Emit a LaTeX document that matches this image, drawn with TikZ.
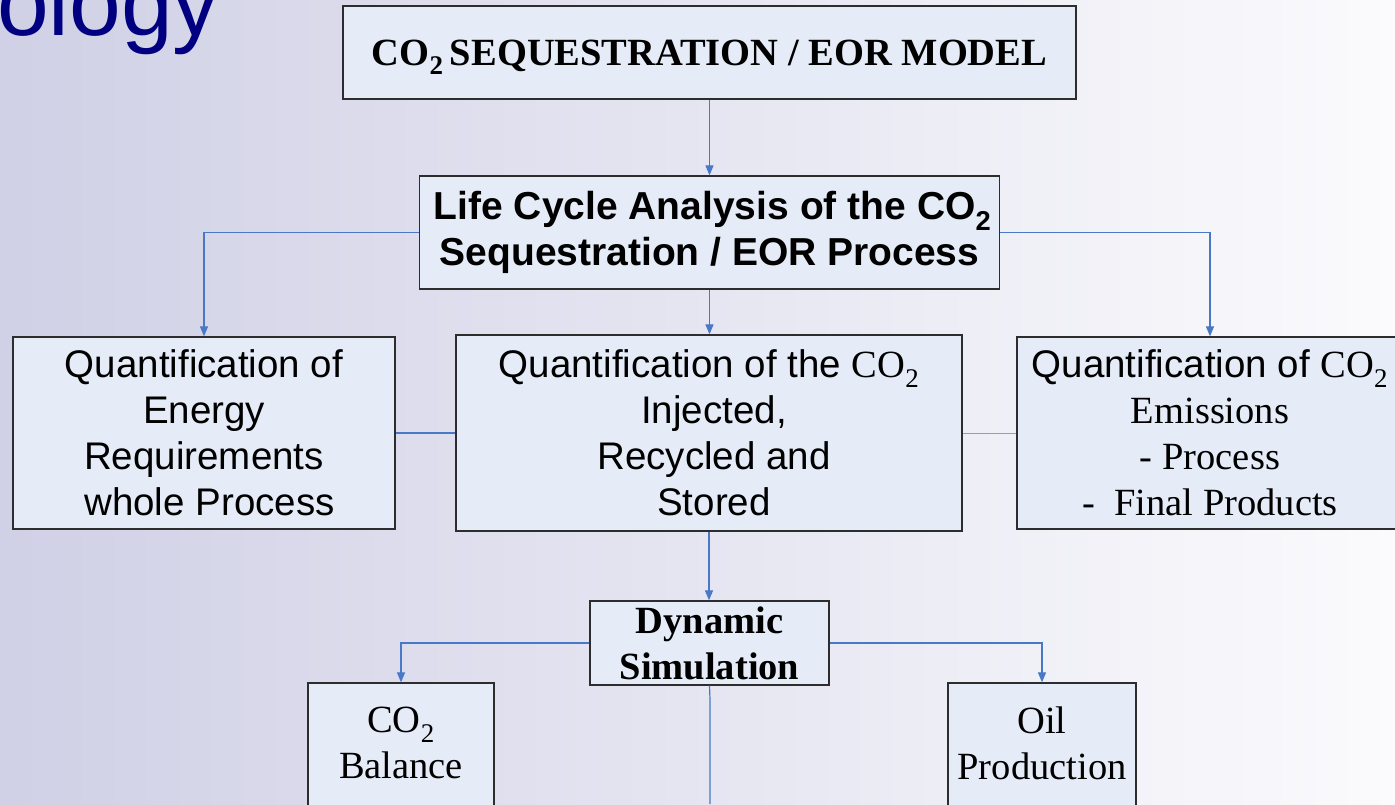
\documentclass[tikz,border=0pt]{standalone}
\usepackage{fontspec}
\setmainfont{Liberation Serif}
\setsansfont{Liberation Sans}
\newfontfamily\arial{Liberation Sans}
\newfontfamily\tnr{Liberation Serif}
\usetikzlibrary{arrows.meta}

\definecolor{bgleft}{RGB}{208,208,230}
\definecolor{bgright}{RGB}{251,251,253}
\definecolor{boxfill}{RGB}{230,236,247}
\definecolor{boxline}{RGB}{45,45,45}
\definecolor{link}{RGB}{72,120,198}
\definecolor{linklight}{RGB}{130,160,210}
\definecolor{navy}{RGB}{0,0,128}

\newcommand\cotwo{CO\textsubscript{2}}
\newcommand\bodysize{\fontsize{38.5pt}{46pt}\selectfont}

\begin{document}
\begin{tikzpicture}[x=1pt,y=-1pt,
  box/.style={draw=boxline, line width=1.3pt, fill=boxfill, inner sep=0pt, align=center},
  conn/.style={draw=link, line width=1.2pt},
  arr/.style={conn, -{Triangle[length=10pt,width=8pt]}}]
  \useasboundingbox (0,0) rectangle (1395,804);
  \clip (0,0) rectangle (1395,804);
  \shade[left color=bgleft, right color=bgright] (0,0) rectangle (1395,804);

  % slide title fragment
  \node[anchor=base west, inner sep=0pt, text=navy,
        font={\arial\fontsize{93pt}{93pt}\selectfont}] (title) at (-3,35) {ology};

  % boxes
  \node[box, minimum width=733pt, minimum height=93pt, text depth=0pt,
        font={\tnr\bfseries\bodysize}]
    (model) at (709.5,52.5) {\cotwo\,SEQUESTRATION / EOR MODEL};
  \node[box, minimum width=580pt, minimum height=113pt,
        font={\arial\bfseries\fontsize{39pt}{46pt}\selectfont}]
    (lca) at (709.5,232.5) {\hspace*{6pt}Life Cycle Analysis of the \cotwo\\ Sequestration / EOR Process};
  \node[box, minimum width=382pt, minimum height=192pt, font={\arial\bodysize}]
    (energy) at (204,433) {Quantification of\\ Energy\\ Requirements\\ \hspace*{11pt}whole Process};
  \node[box, minimum width=506pt, minimum height=196pt, font={\arial\bodysize}]
    (inj) at (709,433) {Quantification of the {\tnr\cotwo}\\ \hspace*{10pt}Injected,\\
      \hspace*{10pt}Recycled and\\ \hspace*{10pt}Stored};
  \node[box, minimum width=386pt, minimum height=192pt, font={\tnr\bodysize}]
    (emis) at (1210,433) {{\arial Quantification of }\cotwo\\ Emissions\\ - Process\\ -\ \ Final Products};
  \node[box, minimum width=239pt, minimum height=84pt, font={\tnr\bfseries\bodysize}]
    (dyn) at (709.5,643) {Dynamic\\ Simulation};
  \node[box, minimum width=186pt, minimum height=127pt, text depth=7pt, font={\tnr\bodysize}]
    (bal) at (401,746.5) {\cotwo\\ Balance};
  \node[box, minimum width=188pt, minimum height=127pt, text depth=7pt, font={\tnr\bodysize}]
    (oil) at (1042,746.5) {Oil\\ Production};

  % connectors
  \draw[arr] (model.south) -- (model.south |- lca.north);
  \draw[arr] (lca.west) -| (energy.north);
  \draw[arr] (lca.east) -| (emis.north);
  \draw[arr] (lca.south) -- (lca.south |- inj.north);
  \draw[conn, line width=2pt] (energy.east) -- (inj.west);
  \draw[conn, draw=linklight, line width=1pt] (inj.east) -- (emis.west);
  \draw[arr] (inj.south) -- (inj.south |- dyn.north);
  \draw[arr] (dyn.west) -| (bal.north);
  \draw[arr] (dyn.east) -| (oil.north);
  \coordinate (feed) at (710,804);
  \draw[conn] (feed) -- (710,700) -- (dyn.south);
\end{tikzpicture}
\end{document}
